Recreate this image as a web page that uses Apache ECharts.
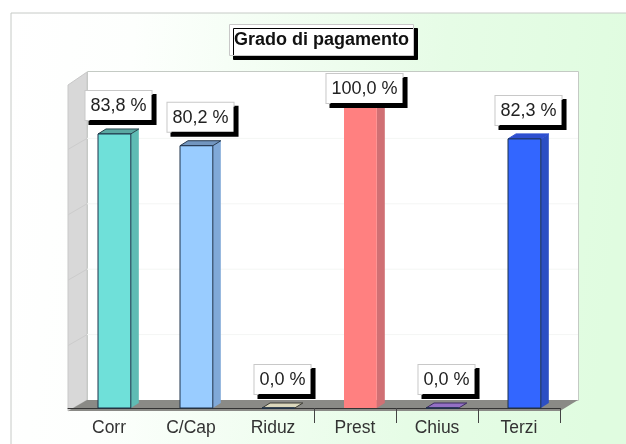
<!DOCTYPE html>
<html>
<head>
<meta charset="utf-8">
<style>
  html, body { margin: 0; padding: 0; background: #fff; }
  #chart { width: 626px; height: 444px; }
</style>
<script src="https://cdn.jsdelivr.net/npm/echarts@6/dist/echarts.min.js"></script>
</head>
<body>
<div id="chart"></div>
<script>
// dati del grafico
const categories = ['Corr', 'C/Cap', 'Riduz', 'Prest', 'Chius', 'Terzi']
const values = [83.8, 80.2, 0, 100, 0, 82.3]
const frontColors = ['#6fe0d9', '#99ccff', '#e4e0c4', '#ff8080', '#9a70c8', '#3366ff']
const sideColors = ['#5fbcb4', '#80a9d8', '#c8c4a8', '#d07074', '#7a58a8', '#2c4fc4']
const topColors = ['#5aa8a2', '#7296c0', '#dcd8bc', '#c06468', '#9470c4', '#2f50d0']
const topStrokes = ['#24424a', '#24384e', '#3a3a34', '#c06468', '#3a2a60', '#2f50d0']
const wallTicks = [20, 40, 60, 80]

const chart = echarts.init(document.getElementById('chart'))

// profondita della finta vista 3D
const wallDx = 19
const wallDy = 12
const barDx = 8
const barDy = 5

function renderWall(params, api) {
  const p = api.coord([0, api.value(0)])
  const left = params.coordSys.x
  const right = left + params.coordSys.width
  return {
    type: 'group',
    children: [
      { type: 'line', shape: { x1: left + wallDx, y1: p[1] - 8, x2: right + 18, y2: p[1] - 8 }, style: { stroke: '#f4f6f4', lineWidth: 1 } },
      { type: 'line', shape: { x1: left, y1: p[1] + 3, x2: left + wallDx, y2: p[1] - 8 }, style: { stroke: '#cccccc', lineWidth: 1 } }
    ]
  }
}

function renderBar(params, api) {
  const i = params.dataIndex
  const top = api.coord([i, api.value(1)])
  const base = api.coord([i, 0])
  const band = api.size([1, 0])[0]
  const w = band * 0.4
  const x0 = top[0] - band * 0.134
  const x1 = x0 + w
  const children = [
    { type: 'polygon', shape: { points: [[x1, top[1]], [x1 + barDx, top[1] - barDy], [x1 + barDx, base[1] - barDy], [x1, base[1]]] }, style: { fill: sideColors[i] } },
    { type: 'polygon', shape: { points: [[x0, top[1]], [x0 + barDx, top[1] - barDy], [x1 + barDx, top[1] - barDy], [x1, top[1]]] }, style: { fill: topColors[i], stroke: topStrokes[i], lineWidth: 1 } },
    { type: 'rect', shape: { x: x0, y: top[1], width: w, height: base[1] - top[1] }, style: { fill: frontColors[i], stroke: i === 3 ? null : '#1c3048', lineWidth: 1 } }
  ]
  return { type: 'group', children: children }
}

function renderLabel(params, api) {
  const i = params.dataIndex
  const top = api.coord([i, api.value(1)])
  const band = api.size([1, 0])[0]
  const cx = top[0] - band * 0.134 + band * 0.25
  // l'etichetta non esce sopra il pannello
  const bottom = Math.max(top[1] - 14, 103)
  return {
    type: 'text',
    style: {
      x: cx,
      y: bottom,
      text: api.value(1).toFixed(1).replace('.', ',') + ' %',
      font: '18px "Liberation Sans", Arial, sans-serif',
      fill: '#222',
      align: 'center',
      verticalAlign: 'bottom',
      backgroundColor: '#fff',
      borderColor: '#c8c8c8',
      borderWidth: 1,
      padding: [6, 5, 5, 5],
      shadowColor: '#000',
      shadowBlur: 0,
      shadowOffsetX: 4,
      shadowOffsetY: 4
    }
  }
}

const option = {
  animation: false,
  backgroundColor: '#fff',
  textStyle: { fontFamily: '"Liberation Sans", Arial, sans-serif' },
  title: {
    text: 'Grado di pagamento',
    left: 229,
    top: 24,
    padding: [7, 5, 7, 5],
    backgroundColor: '#fff',
    borderColor: '#c8c8c8',
    borderWidth: 1,
    shadowColor: '#000',
    shadowBlur: 0,
    shadowOffsetX: 4,
    shadowOffsetY: 4,
    textStyle: { fontSize: 18, fontWeight: 'bold', color: '#111', fontFamily: '"Liberation Sans", Arial, sans-serif' }
  },
  grid: { left: 68, width: 492, top: 81, height: 327 },
  xAxis: {
    type: 'category',
    data: categories,
    offset: 3,
    axisLine: { lineStyle: { color: '#333', width: 1 } },
    axisTick: {
      show: true,
      length: 15,
      interval: (index) => index >= 3,
      lineStyle: { color: '#444' }
    },
    axisLabel: { interval: 0, fontSize: 17.5, color: '#333', margin: 8 }
  },
  yAxis: { type: 'value', min: 0, max: 100, interval: 20, show: false },
  graphic: [
    {
      type: 'rect', z: -20,
      shape: { x: 11, y: 13, width: 620, height: 440 },
      style: {
        fill: new echarts.graphic.LinearGradient(0, 0, 1, 0.15, [
          { offset: 0, color: '#ffffff' },
          { offset: 0.2, color: '#fdfffd' },
          { offset: 0.7, color: '#e6fce6' },
          { offset: 1, color: '#e0fce0' }
        ]),
        stroke: '#c6cac6'
      }
    },
    // parete di fondo, parete sinistra e pavimento
    { type: 'rect', z: -10, shape: { x: 87.5, y: 71.5, width: 491, height: 329 }, style: { fill: '#fff', stroke: '#c4cac4' } },
    { type: 'polygon', z: -9, shape: { points: [[68, 85], [87, 72], [87, 400], [68, 411]] }, style: { fill: '#d8d8d8', stroke: '#c8c8c8' } },
    { type: 'polygon', z: -8, shape: { points: [[68, 411], [87, 400], [578, 400], [560, 411]] }, style: { fill: '#8a8a86' } }
  ],
  series: [
    {
      type: 'custom', z: 1, silent: true,
      coordinateSystem: 'cartesian2d',
      data: wallTicks.map((v) => [v]),
      encode: { y: 0 },
      renderItem: renderWall
    },
    {
      type: 'custom', z: 2, silent: true,
      coordinateSystem: 'cartesian2d',
      data: values.map((v, i) => [i, v]),
      encode: { x: 0, y: 1 },
      renderItem: renderBar
    },
    {
      type: 'custom', z: 3, silent: true,
      coordinateSystem: 'cartesian2d',
      data: values.map((v, i) => [i, v]),
      encode: { x: 0, y: 1 },
      renderItem: renderLabel
    }
  ]
}
chart.setOption(option)
</script>
</body>
</html>
